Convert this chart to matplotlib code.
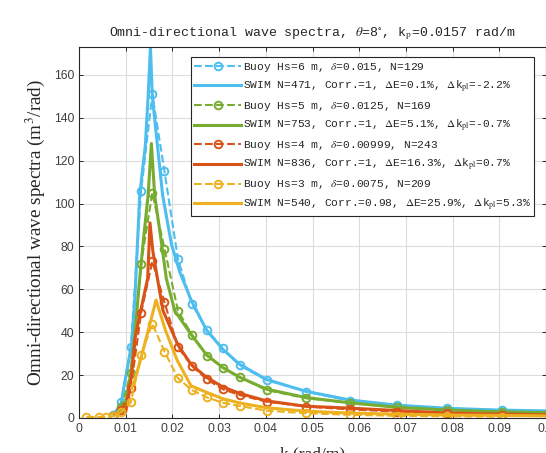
import numpy as np
import matplotlib
matplotlib.use("Agg")
import matplotlib.pyplot as plt

plt.rcParams["mathtext.fontset"] = "stix"

# MATLAB default colours
c_blue = "#4DBEEE"
c_green = "#77AC30"
c_red = "#D95319"
c_orange = "#EDB120"

# buoy wavenumber grid (rad/m)
k_buoy = [0.0016, 0.0043, 0.0057, 0.0073, 0.0091, 0.0111, 0.0133, 0.0157, 0.0183, 0.0212,
          0.0242, 0.0274, 0.0308, 0.0344, 0.0402, 0.0487, 0.0580, 0.0680, 0.0789, 0.0906]

# buoy spectra (Hs=6,5,4 start at k=0.0073)
buoy6 = [1.4, 7.6, 33, 106, 151, 115, 74, 53, 41, 32.5, 24.5, 17.7, 12.3, 8.0, 6.0, 4.5, 3.6]
buoy5 = [1.0, 5.0, 21, 72, 105, 79, 50, 38.7, 29, 23.5, 19, 13, 9.2, 7.0, 5.0, 3.7, 2.9]
buoy4 = [0.8, 3.5, 14, 49, 73, 54, 33, 24.2, 18, 13.4, 10.7, 7.6, 5.3, 4.0, 3.0, 2.2, 1.6]
buoy3 = [0.5, 0.5, 0.5, 0.8, 3.0, 7.3, 29.4, 44, 31, 18.5, 13, 9.6, 7.1, 5.6, 3.4, 2.2, 1.5, 1.0, 0.8, 0.6]

# SWIM spectra
k_swim6 = [0.0088, 0.0095, 0.0105, 0.0113, 0.0120, 0.0130, 0.0142, 0.0148, 0.0153, 0.0157, 0.0168,
           0.0179, 0.0198, 0.0216, 0.0240, 0.0273, 0.0308, 0.0344, 0.0401, 0.0485, 0.0580, 0.0680,
           0.0790, 0.0900, 0.1000]
swim6 = [3, 13, 25, 35, 57, 104, 127, 150, 173, 150, 127, 104, 81, 68, 55, 41, 32, 25, 18, 12.5,
         8.4, 6.0, 4.5, 3.7, 3.3]

k_swim5 = [0.0095, 0.0103, 0.0111, 0.0120, 0.0130, 0.0137, 0.0148, 0.0155, 0.0162, 0.0177, 0.0187,
           0.0205, 0.0240, 0.0273, 0.0308, 0.0344, 0.0401, 0.0487, 0.0580, 0.0680, 0.0790, 0.0900,
           0.1000]
swim5 = [3, 10, 21, 40, 65, 81, 104, 128, 104, 81, 65, 50, 39, 29.5, 23.5, 19, 13.5, 9.5, 7.1, 5.0,
         3.7, 2.9, 2.5]

k_swim4 = [0.0100, 0.0105, 0.0113, 0.0120, 0.0131, 0.0147, 0.0152, 0.0158, 0.0168, 0.0180, 0.0212,
           0.0240, 0.0273, 0.0308, 0.0344, 0.0401, 0.0485, 0.0580, 0.0680, 0.0790, 0.0900, 0.1000]
swim4 = [3, 8, 21, 37, 49, 65, 91, 78, 65, 50, 34, 25, 19, 14.5, 11.5, 8, 5.5, 4.6, 3.5, 2.3, 1.8, 1.5]

k_swim3 = [0.0113, 0.0120, 0.0134, 0.0152, 0.0165, 0.0185, 0.0210, 0.0240, 0.0273, 0.0308, 0.0344,
           0.0401, 0.0485, 0.0580, 0.0680, 0.0790, 0.0900, 0.1000]
swim3 = [14, 18, 29, 44, 55, 41, 27, 15, 12, 9, 7, 4.8, 3.2, 2.3, 1.8, 1.4, 1.2, 1.0]

buoy_labels = [
    r"Buoy Hs=6 m, $\delta$=0.015, N=129",
    r"Buoy Hs=5 m, $\delta$=0.0125, N=169",
    r"Buoy Hs=4 m, $\delta$=0.00999, N=243",
    r"Buoy Hs=3 m, $\delta$=0.0075, N=209",
]
swim_labels = [
    r"SWIM N=471, Corr.=1, $\Delta$E=0.1%, $\Delta$k$_{\rm pl}$=-2.2%",
    r"SWIM N=753, Corr.=1, $\Delta$E=5.1%, $\Delta$k$_{\rm pl}$=-0.7%",
    r"SWIM N=836, Corr.=1, $\Delta$E=16.3%, $\Delta$k$_{\rm pl}$=0.7%",
    r"SWIM N=540, Corr.=0.98, $\Delta$E=25.9%, $\Delta$k$_{\rm pl}$=5.3%",
]

series = [
    (k_buoy[3:], buoy6, k_swim6, swim6, c_blue),
    (k_buoy[3:], buoy5, k_swim5, swim5, c_green),
    (k_buoy[3:], buoy4, k_swim4, swim4, c_red),
    (k_buoy, buoy3, k_swim3, swim3, c_orange),
]

fig = plt.figure(figsize=(5.46, 4.53), dpi=100)
ax = fig.add_axes([79 / 546, 35 / 453, 467 / 546, 371 / 453])

for (kb, sb, ks, ss, col), lb, ls in zip(series, buoy_labels, swim_labels):
    ax.plot(kb, sb, "--o", color=col, lw=1.5, ms=5.5, mfc="none", mew=1.4, label=lb)
    ax.plot(ks, ss, "-", color=col, lw=2.2, label=ls)

ax.set_xlim(0, 0.1)
ax.set_ylim(0, 173)
ax.set_xticks(np.arange(0, 0.101, 0.01))
ax.set_xticklabels(["0", "0.01", "0.02", "0.03", "0.04", "0.05", "0.06", "0.07", "0.08", "0.09", "0.1"])
ax.set_yticks(np.arange(0, 161, 20))
ax.grid(True, color="#dcdcdc", lw=0.8)
ax.set_axisbelow(True)
ax.tick_params(direction="in", top=True, right=True, length=3, width=0.7, colors="#262626",
               labelsize=8.8)
for lab in ax.get_xticklabels() + ax.get_yticklabels():
    lab.set_fontfamily("Liberation Sans")
    lab.set_color("#404040")
for sp in ax.spines.values():
    sp.set_color("#262626")
    sp.set_linewidth(0.8)

ax.set_xlabel("k (rad/m)", family="Liberation Serif", fontsize=12.5, color="#262626", labelpad=8)
ax.set_ylabel(r"Omni-directional wave spectra (m$^3$/rad)", family="Liberation Serif",
              fontsize=13.8, color="#262626", labelpad=5)
ax.set_title(r"Omni-directional wave spectra, $\theta$=8$^{\circ}$, k$_{\rm p}$=0.0157 rad/m",
             family="Liberation Mono", fontsize=9.5, color="#262626", pad=8)

leg = ax.legend(loc="upper right", bbox_to_anchor=(0.975, 0.972), borderaxespad=0,
                prop={"family": "Liberation Mono", "size": 8.1}, numpoints=1,
                handlelength=4.2, handletextpad=0.1, labelspacing=0.45,
                fancybox=False, framealpha=1, edgecolor="#262626", borderpad=0.3)
leg.get_frame().set_linewidth(0.8)
for t in leg.get_texts():
    t.set_color("#262626")

fig.savefig("out.png", dpi=100)
